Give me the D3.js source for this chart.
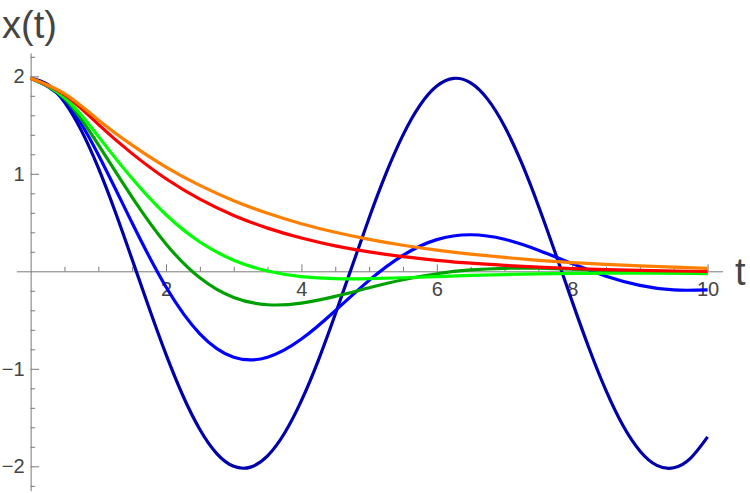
<!DOCTYPE html>
<html>
<head>
<meta charset="utf-8">
<script src="https://cdn.jsdelivr.net/npm/d3@7"></script>
<style>
body { margin: 0; background: #fff; }
svg text { font-family: "Liberation Sans", Arial, sans-serif; }
</style>
</head>
<body>
<svg id="chart" width="750" height="493"></svg>
<script>

// sample times (the undamped curve is read at a finer step)
var tFine = [0,0.25,0.5,0.75,1,1.25,1.5,1.75,2,2.25,2.5,2.75,3,3.25,3.5,3.75,4,4.25,4.5,4.75,
             5,5.25,5.5,5.75,6,6.25,6.5,6.75,7,7.25,7.5,7.75,8,8.25,8.5,8.75,9,9.25,9.5,9.75,10];
var tStep = [0,0.5,1,1.5,2,2.5,3,3.5,4,4.5,5,5.5,6,6.5,7,7.5,8,8.5,9,9.5,10];

// x(t), one list per curve
var darkBlueVals = [1.98,1.918,1.735,1.443,1.061,0.611,0.121,-0.376,-0.852,-1.276,-1.622,-1.869,-2.0,-2.008,
                    -1.893,-1.661,-1.327,-0.913,-0.441,0.055,0.547,1.004,1.397,1.702,1.9,1.979,1.933,1.766,
                    1.488,1.116,0.673,0.188,-0.311,-0.791,-1.224,-1.582,-1.842,-1.99,-2.015,-1.915,-1.698];
var blueVals      = [1.98,1.754,1.196,0.495,-0.161,-0.641,-0.881,-0.881,-0.695,-0.404,-0.093,
                     0.164,0.325,0.375,0.329,0.217,0.079,-0.05,-0.144,-0.191,-0.19];
var darkGreenVals = [1.98,1.771,1.299,0.759,0.281,-0.067,-0.269,-0.343,-0.326,-0.257,-0.169,
                     -0.087,-0.025,0.014,0.031,0.032,0.022,0.008,-0.006,-0.017,-0.024];
var greenVals     = [1.98,1.786,1.384,0.951,0.58,0.301,0.114,0.003,-0.054,-0.075,-0.075,
                     -0.066,-0.054,-0.042,-0.033,-0.026,-0.022,-0.02,-0.019,-0.018,-0.018];
var redVals       = [1.98,1.812,1.507,1.207,0.949,0.74,0.573,0.443,0.341,0.261,0.199,
                     0.15,0.113,0.083,0.061,0.043,0.029,0.018,0.01,0.003,-0.002];
var orangeVals    = [1.98,1.822,1.553,1.294,1.069,0.881,0.724,0.595,0.488,0.4,0.327,
                     0.267,0.217,0.176,0.142,0.113,0.09,0.071,0.055,0.042,0.031];

var xMajor = [2,4,6,8,10];
var xMinor = [0.5,1,1.5,2.5,3,3.5,4.5,5,5.5,6.5,7,7.5,8.5,9,9.5];
var yMajor = [-2,-1,1,2];
var yMinor = [-2.2,-1.8,-1.6,-1.4,-1.2,-0.8,-0.6,-0.4,-0.2,0.2,0.4,0.6,0.8,1.2,1.4,1.6,1.8,2.2];

var curves = [
  {t: tFine, v: darkBlueVals,  color: "#0000aa"},
  {t: tStep, v: blueVals,      color: "#0000ff"},
  {t: tStep, v: darkGreenVals, color: "#00a000"},
  {t: tStep, v: greenVals,     color: "#00ff00"},
  {t: tStep, v: redVals,       color: "#ff0000"},
  {t: tStep, v: orangeVals,    color: "#ff8000"}
];

var svg = d3.select("#chart");

var x = d3.scaleLinear().domain([-0.21, 10.22]).range([16.4, 722.5]);
var y = d3.scaleLinear().domain([-2.25, 2.24]).range([490.7, 52.9]);

var axisColor = "#7a7a7a", labelColor = "#444";
var intFmt = d3.format("d");

/* ---- x axis: ticks point up, labels under ---- */
var gx = svg.append("g").attr("transform", "translate(0," + y(0) + ")");
gx.call(d3.axisBottom(x).tickValues(xMajor).tickSize(-7).tickSizeOuter(0).tickPadding(11).tickFormat(intFmt));
var gxm = svg.append("g").attr("transform", "translate(0," + y(0) + ")");
gxm.call(d3.axisBottom(x).tickValues(xMinor).tickSize(-4.5).tickFormat(""));
gxm.select(".domain").remove();

/* ---- y axis: ticks point right, labels to the left ---- */
var gy = svg.append("g").attr("transform", "translate(" + x(0) + ",0)");
gy.call(d3.axisLeft(y).tickValues(yMajor).tickSize(-8.5).tickSizeOuter(0).tickPadding(6).tickFormat(intFmt));
var gym = svg.append("g").attr("transform", "translate(" + x(0) + ",0)");
gym.call(d3.axisLeft(y).tickValues(yMinor).tickSize(-4.5).tickFormat(""));
gym.select(".domain").remove();

svg.selectAll(".domain, .tick line").attr("stroke", axisColor).attr("stroke-width", 1);
svg.selectAll(".tick text")
  .attr("fill", labelColor)
  .attr("font-size", 20)
  .attr("font-family", "Liberation Sans, Arial, sans-serif");

/* ---- the curves ---- */
var line = d3.line()
  .x(function(d) { return x(d[0]); })
  .y(function(d) { return y(d[1]); })
  .curve(d3.curveNatural);

svg.append("g").selectAll("path")
  .data(curves)
  .enter().append("path")
  .attr("d", function(c) {
    return line(c.t.map(function(t, i) { return [t, c.v[i]]; }));
  })
  .attr("fill", "none")
  .attr("stroke", function(c) { return c.color; })
  .attr("stroke-width", 3.2)
  .attr("stroke-linejoin", "round");

/* ---- axis titles ---- */
svg.append("text")
  .attr("x", 2).attr("y", 38)
  .attr("fill", labelColor)
  .attr("font-size", 38)
  .text("x(t)");

svg.append("text")
  .attr("x", 735).attr("y", 285)
  .attr("fill", labelColor)
  .attr("font-size", 38)
  .text("t");

</script>
</body>
</html>
